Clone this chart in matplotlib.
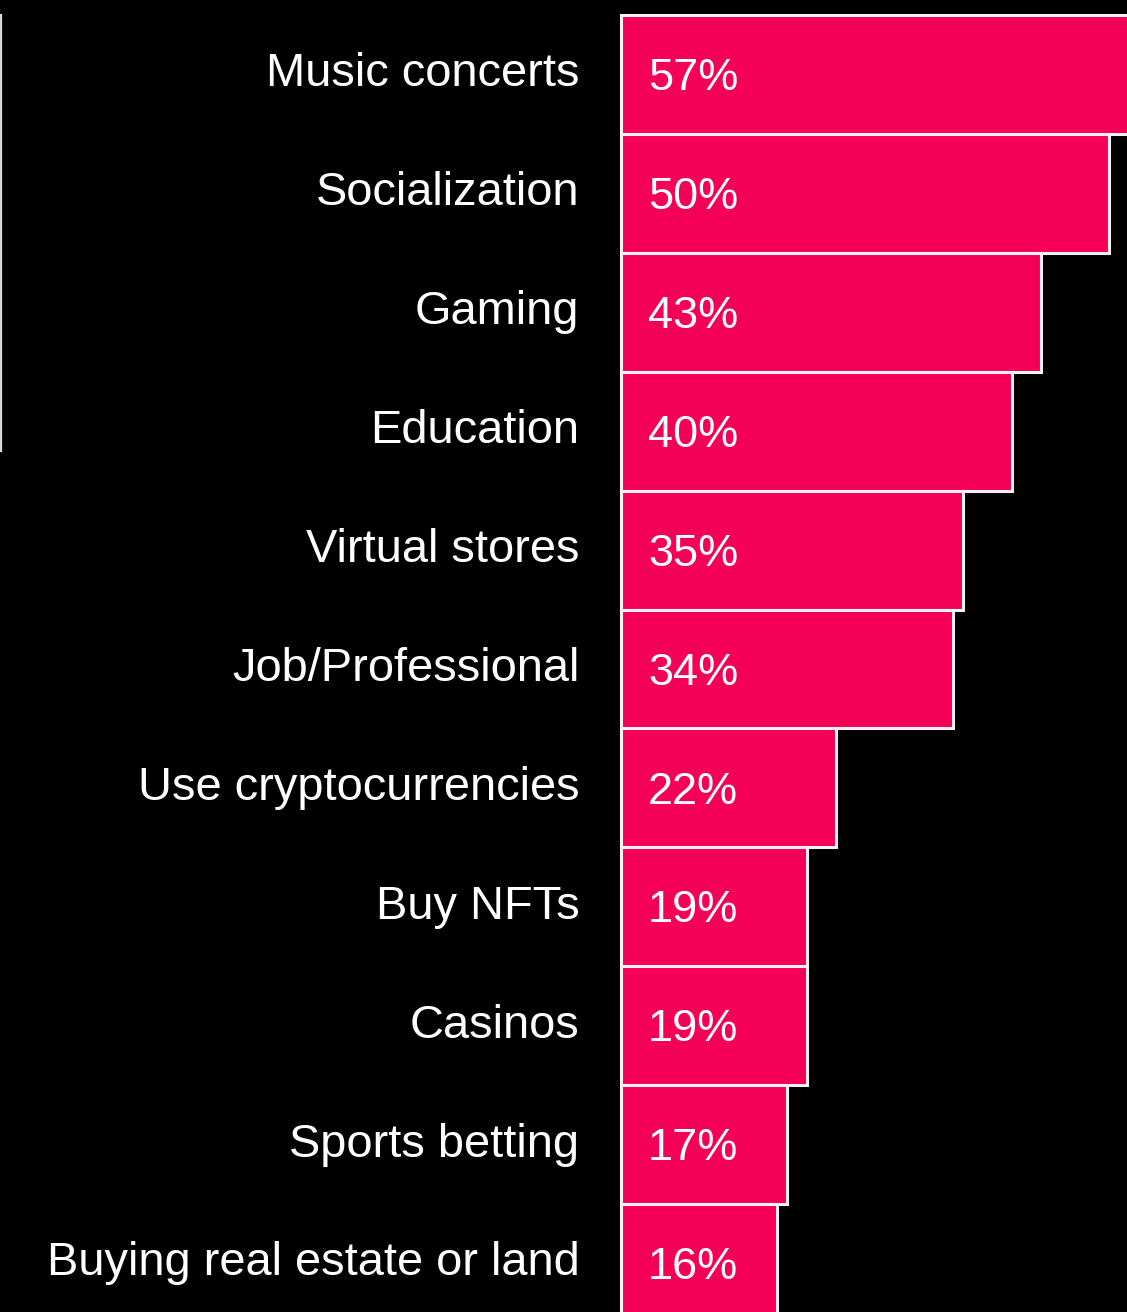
import matplotlib
matplotlib.use("Agg")
import matplotlib.pyplot as plt
from matplotlib.lines import Line2D

categories = [
    "Music concerts",
    "Socialization",
    "Gaming",
    "Education",
    "Virtual stores",
    "Job/Professional",
    "Use cryptocurrencies",
    "Buy NFTs",
    "Casinos",
    "Sports betting",
    "Buying real estate or land",
]
shares = [57, 50, 43, 40, 35, 34, 22, 19, 19, 17, 16]
value_labels = [f"{v}%" for v in shares]

BG = "#000000"
BAR = "#F50057"
EDGE = "#F2F2F2"

plt.rcParams["font.family"] = ["Liberation Sans", "DejaVu Sans"]

W, H, DPI = 1127, 1312, 100
fig = plt.figure(figsize=(W / DPI, H / DPI), dpi=DPI, facecolor=BG)

left_px, top_px = 621, 15
ax = fig.add_axes([left_px / W, 0, 1 - left_px / W, (H - top_px) / H])
ax.set_facecolor(BG)

pos = list(range(len(categories)))
bars = ax.barh(pos, shares, height=1.0, color=BAR, edgecolor=EDGE,
               linewidth=2.2, clip_on=False)

ax.set_xlim(0, 51.8)
row_px = 118.9
ax.set_ylim(-0.5 + (H - top_px) / row_px, -0.5)

ax.set_yticks(pos)
ax.set_yticklabels(categories, color="white", fontsize=33.8)
ax.tick_params(axis="y", length=0, pad=30)
ax.set_xticks([])
for s in ax.spines.values():
    s.set_visible(False)
for lbl in ax.get_yticklabels():
    lbl.set_verticalalignment("center")

for y, txt in zip(pos, value_labels):
    ax.annotate(txt, xy=(0, y), xytext=(19.5, -3), textcoords="offset points",
                ha="left", va="center", color="white", fontsize=32.5)

# thin rule on the far left edge
fig.add_artist(Line2D([0.8 / W, 0.8 / W], [1 - 15 / H, 1 - 451 / H],
                      color="#D8D8D8", linewidth=1.6, transform=fig.transFigure))

fig.savefig("out.png", dpi=DPI, facecolor=BG)
